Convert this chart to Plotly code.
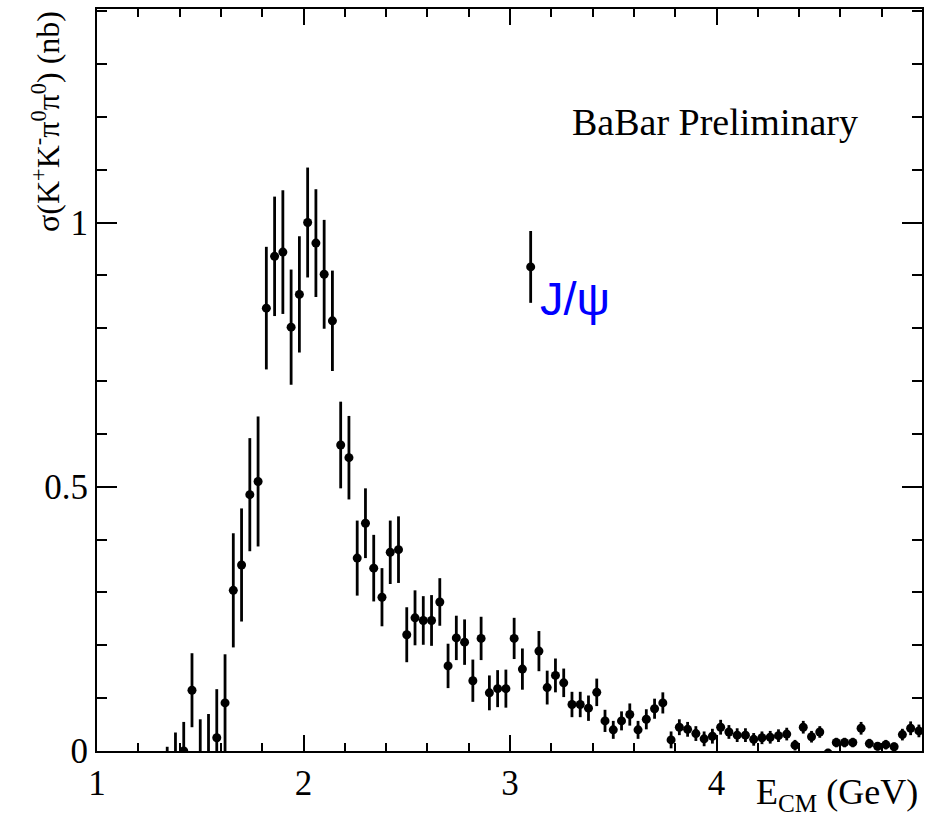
import plotly.graph_objects as go

# Centre-of-mass energy bins (GeV), 40 MeV wide
energy_gev = [
    1.34, 1.38, 1.42, 1.46, 1.50, 1.54, 1.58, 1.62, 1.66, 1.70,
    1.74, 1.78, 1.82, 1.86, 1.90, 1.94, 1.98, 2.02, 2.06, 2.10,
    2.14, 2.18, 2.22, 2.26, 2.30, 2.34, 2.38, 2.42, 2.46, 2.50,
    2.54, 2.58, 2.62, 2.66, 2.70, 2.74, 2.78, 2.82, 2.86, 2.90,
    2.94, 2.98, 3.02, 3.06, 3.10, 3.14, 3.18, 3.22, 3.26, 3.30,
    3.34, 3.38, 3.42, 3.46, 3.50, 3.54, 3.58, 3.62, 3.66, 3.70,
    3.74, 3.78, 3.82, 3.86, 3.90, 3.94, 3.98, 4.02, 4.06, 4.10,
    4.14, 4.18, 4.22, 4.26, 4.30, 4.34, 4.38, 4.42, 4.46, 4.50,
    4.54, 4.58, 4.62, 4.66, 4.70, 4.74, 4.78, 4.82, 4.86, 4.90,
    4.94, 4.98,
]

# Cross section sigma(K+K-pi0pi0) in nb
sigma_nb = [
    -0.010, -0.010, 0.000, 0.115, -0.020, -0.020, 0.025, 0.091, 0.304, 0.352,
    0.485, 0.510, 0.838, 0.936, 0.944, 0.802, 0.864, 1.000, 0.961, 0.902,
    0.814, 0.579, 0.555, 0.365, 0.431, 0.346, 0.291, 0.376, 0.381, 0.220,
    0.252, 0.247, 0.247, 0.282, 0.161, 0.214, 0.206, 0.133, 0.213, 0.110,
    0.118, 0.118, 0.213, 0.155, 0.916, 0.189, 0.120, 0.143, 0.129, 0.088,
    0.088, 0.081, 0.111, 0.057, 0.040, 0.057, 0.069, 0.040, 0.060, 0.080,
    0.091, 0.021, 0.045, 0.041, 0.033, 0.023, 0.028, 0.045, 0.036, 0.030,
    0.030, 0.022, 0.025, 0.026, 0.029, 0.032, 0.011, 0.045, 0.027, 0.036,
    -0.004, 0.016, 0.016, 0.016, 0.043, 0.014, 0.009, 0.012, 0.008, 0.031,
    0.043, 0.038,
]

# Statistical uncertainty (nb)
sigma_err_nb = [
    0.018, 0.045, 0.055, 0.070, 0.080, 0.090, 0.092, 0.092, 0.108, 0.107,
    0.107, 0.123, 0.116, 0.113, 0.117, 0.109, 0.110, 0.104, 0.102, 0.103,
    0.095, 0.082, 0.079, 0.071, 0.066, 0.063, 0.055, 0.060, 0.063, 0.052,
    0.052, 0.046, 0.048, 0.045, 0.042, 0.042, 0.043, 0.040, 0.041, 0.033,
    0.035, 0.036, 0.039, 0.039, 0.068, 0.038, 0.032, 0.032, 0.027, 0.024,
    0.024, 0.024, 0.026, 0.021, 0.017, 0.018, 0.021, 0.017, 0.019, 0.019,
    0.020, 0.016, 0.015, 0.014, 0.014, 0.014, 0.014, 0.014, 0.013, 0.013,
    0.013, 0.012, 0.012, 0.012, 0.012, 0.012, 0.010, 0.012, 0.011, 0.011,
    0.008, 0.009, 0.009, 0.009, 0.012, 0.009, 0.008, 0.009, 0.008, 0.011,
    0.013, 0.012,
]

x_tick_values = [1, 2, 3, 4]
y_tick_values = [0, 0.5, 1]
y_tick_labels = ["0", "0.5", "1"]

SERIF = "Liberation Serif"
SANS = "Liberation Sans"

fig = go.Figure()
fig.add_trace(go.Scatter(
    x=energy_gev,
    y=sigma_nb,
    mode="markers",
    marker=dict(symbol="circle", size=9, color="black"),
    error_y=dict(type="data", array=sigma_err_nb, visible=True,
                 color="black", thickness=2.8, width=0),
    cliponaxis=True,
    showlegend=False,
))

axis_common = dict(
    showline=True, linecolor="black", linewidth=2, mirror="ticks",
    ticks="inside", tickcolor="black", tickwidth=2,
    showgrid=False, zeroline=False,
    tickfont=dict(family=SERIF, size=35, color="black"),
)

fig.update_xaxes(
    range=[1, 4.995], tickmode="array", tickvals=x_tick_values,
    ticklen=16,
    minor=dict(ticks="inside", dtick=0.2, tick0=1, ticklen=8,
               tickwidth=2, tickcolor="black", showgrid=False),
    **axis_common,
)
fig.update_yaxes(
    range=[0, 1.404], tickmode="array", tickvals=y_tick_values,
    ticktext=y_tick_labels, ticklen=20,
    minor=dict(ticks="inside", dtick=0.1, tick0=0, ticklen=10,
               tickwidth=2, tickcolor="black", showgrid=False),
    **axis_common,
)

fig.add_annotation(
    text="BaBar Preliminary", xref="paper", yref="paper",
    x=0.925, y=0.848, xanchor="right", yanchor="middle", showarrow=False,
    font=dict(family=SERIF, size=38, color="black"),
)
fig.add_annotation(
    text="J/\u03c8", xref="paper", yref="paper",
    x=0.535, y=0.610, xanchor="left", yanchor="middle", showarrow=False,
    font=dict(family=SANS, size=47, color="#0000ff"),
)
fig.add_annotation(
    text="E<sub>CM</sub> (GeV)", xref="paper", yref="paper",
    x=0.997, y=-0.091, xanchor="right", yanchor="bottom", showarrow=False,
    font=dict(family=SERIF, size=36, color="black"),
)
fig.add_annotation(
    text="\u03c3(K<sup>+</sup>K<sup>-</sup>\u03c0<sup>0</sup>\u03c0<sup>0</sup>) (nb)",
    xref="paper", yref="paper", textangle=-90,
    x=-0.062, y=0.849, xanchor="center", yanchor="middle", showarrow=False,
    font=dict(family=SERIF, size=32, color="black"),
)

fig.update_layout(
    width=935, height=819,
    margin=dict(l=97, r=13, t=7, b=68),
    paper_bgcolor="white", plot_bgcolor="white",
)

fig.write_html("out.html")
